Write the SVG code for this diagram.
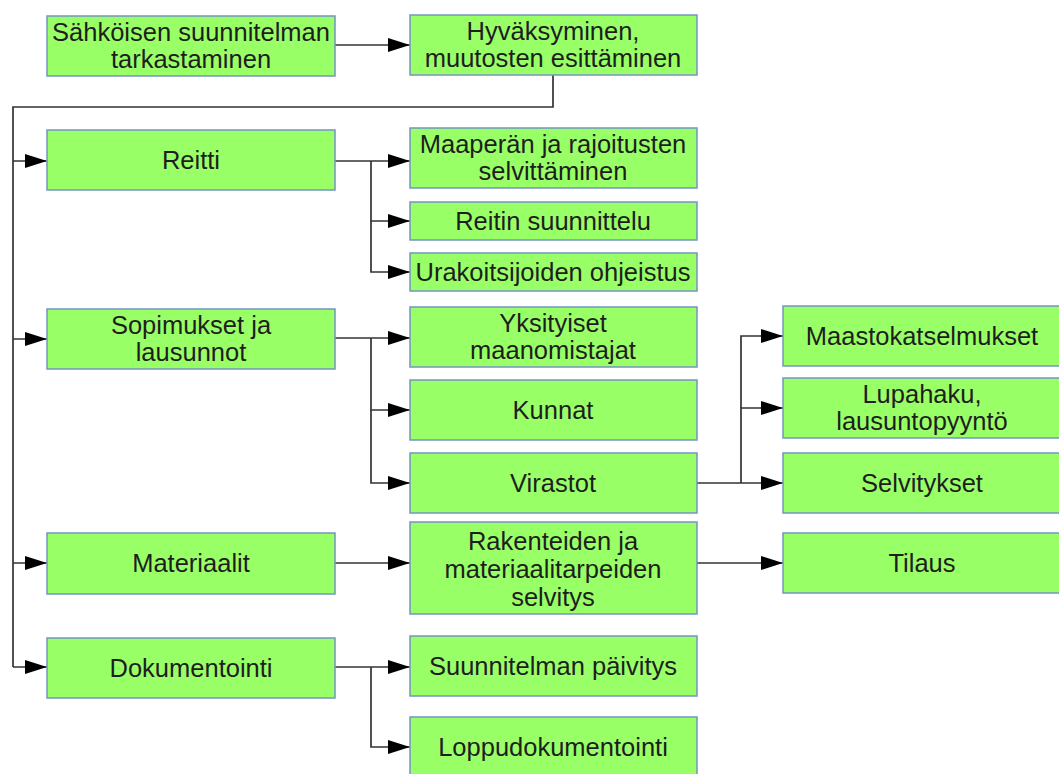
<svg xmlns="http://www.w3.org/2000/svg" width="1059" height="774" viewBox="0 0 1059 774">
<defs>
<style>
.box{fill:#99ff66;stroke:#7394c4;stroke-width:1.5}
.t{font-family:"Liberation Sans",Arial,sans-serif;font-size:25.5px;fill:#1e1e1e;text-anchor:middle}
.c{fill:none;stroke:#333;stroke-width:1.7}
</style>
<marker id="ah" markerWidth="22" markerHeight="14" refX="22" refY="7" orient="auto" markerUnits="userSpaceOnUse">
<path d="M0,0 L22,7 L0,14 Z" fill="#000"/>
</marker>
</defs>
<rect width="1059" height="774" fill="#fff"/>
<g id="connectors">
<path class="c" d="M335,45 H410" marker-end="url(#ah)"/>
<path class="c" d="M553,75 V107 H13 V667"/>
<path class="c" d="M13,161 H47" marker-end="url(#ah)"/>
<path class="c" d="M13,339 H47" marker-end="url(#ah)"/>
<path class="c" d="M13,563 H47" marker-end="url(#ah)"/>
<path class="c" d="M13,667 H47" marker-end="url(#ah)"/>
<path class="c" d="M335,161 H410" marker-end="url(#ah)"/>
<path class="c" d="M371,161 V221 H410" marker-end="url(#ah)"/>
<path class="c" d="M371,221 V272 H410" marker-end="url(#ah)"/>
<path class="c" d="M335,338 H410" marker-end="url(#ah)"/>
<path class="c" d="M371,338 V410 H410" marker-end="url(#ah)"/>
<path class="c" d="M371,410 V483 H410" marker-end="url(#ah)"/>
<path class="c" d="M697,483 H783" marker-end="url(#ah)"/>
<path class="c" d="M741,483 V408 H783" marker-end="url(#ah)"/>
<path class="c" d="M741,408 V336 H783" marker-end="url(#ah)"/>
<path class="c" d="M335,563 H410" marker-end="url(#ah)"/>
<path class="c" d="M697,563 H783" marker-end="url(#ah)"/>
<path class="c" d="M335,667 H410" marker-end="url(#ah)"/>
<path class="c" d="M371,667 V747 H410" marker-end="url(#ah)"/>
</g>
<g id="n1"><rect class="box" x="47" y="16" width="288" height="60"/><text class="t" x="191" y="41">Sähköisen suunnitelman</text><text class="t" x="191" y="68">tarkastaminen</text></g>
<g id="n2"><rect class="box" x="410" y="15" width="287" height="60"/><text class="t" x="553" y="40">Hyväksyminen,</text><text class="t" x="553" y="67">muutosten esittäminen</text></g>
<g id="n3"><rect class="box" x="47" y="130" width="288" height="60"/><text class="t" x="191" y="169">Reitti</text></g>
<g id="n4"><rect class="box" x="410" y="128" width="287" height="60"/><text class="t" x="553" y="153">Maaperän ja rajoitusten</text><text class="t" x="553" y="180">selvittäminen</text></g>
<g id="n5"><rect class="box" x="410" y="202" width="287" height="38"/><text class="t" x="553" y="230">Reitin suunnittelu</text></g>
<g id="n6"><rect class="box" x="410" y="253" width="287" height="38"/><text class="t" x="553" y="281">Urakoitsijoiden ohjeistus</text></g>
<g id="n7"><rect class="box" x="47" y="309" width="288" height="60"/><text class="t" x="191" y="334">Sopimukset ja</text><text class="t" x="191" y="361">lausunnot</text></g>
<g id="n8"><rect class="box" x="410" y="307" width="287" height="60"/><text class="t" x="553" y="332">Yksityiset</text><text class="t" x="553" y="359">maanomistajat</text></g>
<g id="n9"><rect class="box" x="410" y="380" width="287" height="60"/><text class="t" x="553" y="419">Kunnat</text></g>
<g id="n10"><rect class="box" x="410" y="453" width="287" height="60"/><text class="t" x="553" y="492">Virastot</text></g>
<g id="n11"><rect class="box" x="783" y="306" width="280" height="60"/><text class="t" x="922" y="345">Maastokatselmukset</text></g>
<g id="n12"><rect class="box" x="783" y="378" width="280" height="60"/><text class="t" x="922" y="403">Lupahaku,</text><text class="t" x="922" y="430">lausuntopyyntö</text></g>
<g id="n13"><rect class="box" x="783" y="453" width="280" height="60"/><text class="t" x="922" y="492">Selvitykset</text></g>
<g id="n14"><rect class="box" x="47" y="533" width="288" height="61"/><text class="t" x="191" y="572">Materiaalit</text></g>
<g id="n15"><rect class="box" x="410" y="522" width="287" height="92"/><text class="t" x="553" y="550">Rakenteiden ja</text><text class="t" x="553" y="578">materiaalitarpeiden</text><text class="t" x="553" y="606">selvitys</text></g>
<g id="n16"><rect class="box" x="783" y="533" width="280" height="60"/><text class="t" x="922" y="572">Tilaus</text></g>
<g id="n17"><rect class="box" x="47" y="638" width="288" height="60"/><text class="t" x="191" y="677">Dokumentointi</text></g>
<g id="n18"><rect class="box" x="410" y="636" width="287" height="60"/><text class="t" x="553" y="675">Suunnitelman päivitys</text></g>
<g id="n19"><rect class="box" x="410" y="717" width="287" height="62"/><text class="t" x="553" y="756">Loppudokumentointi</text></g>
</svg>
